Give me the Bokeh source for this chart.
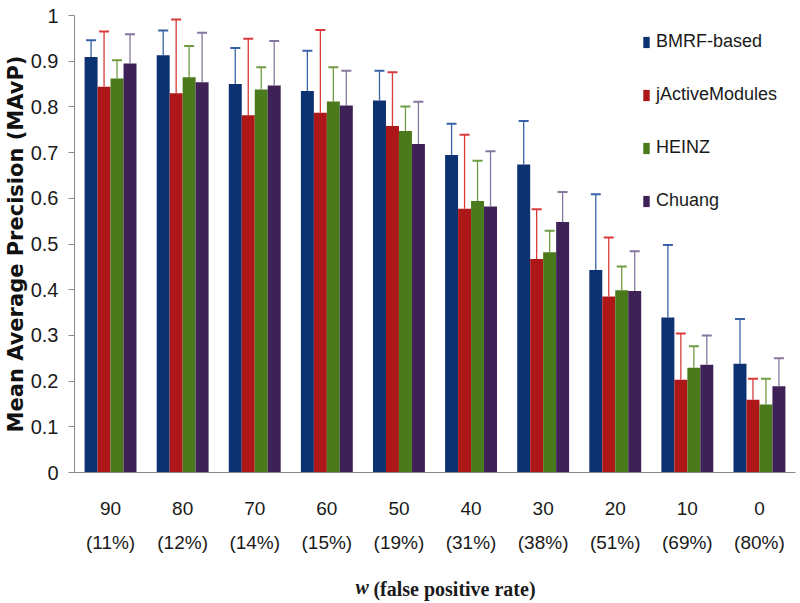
from bokeh.plotting import figure
from bokeh.models import (ColumnDataSource, Whisker, TeeHead, Legend, LegendItem,
                          FixedTicker, LinearAxis)
from bokeh.embed import file_html
from bokeh.resources import INLINE

# ---------------- data ----------------
w_values = ["90", "80", "70", "60", "50", "40", "30", "20", "10", "0"]
fp_rates = ["(11%)", "(12%)", "(14%)", "(15%)", "(19%)", "(31%)", "(38%)", "(51%)", "(69%)", "(80%)"]

series_names = ["BMRF-based", "jActiveModules", "HEINZ", "Chuang"]

bmrf_mean = [0.909, 0.913, 0.850, 0.835, 0.814, 0.695, 0.674, 0.443, 0.339, 0.238]
bmrf_sd = [0.037, 0.054, 0.079, 0.088, 0.065, 0.068, 0.095, 0.166, 0.159, 0.098]

jactive_mean = [0.844, 0.830, 0.782, 0.787, 0.758, 0.577, 0.467, 0.385, 0.203, 0.159]
jactive_sd = [0.121, 0.161, 0.167, 0.181, 0.118, 0.162, 0.109, 0.129, 0.101, 0.046]

heinz_mean = [0.862, 0.865, 0.838, 0.812, 0.747, 0.594, 0.482, 0.399, 0.229, 0.149]
heinz_sd = [0.040, 0.068, 0.049, 0.075, 0.054, 0.088, 0.047, 0.052, 0.047, 0.056]

chuang_mean = [0.895, 0.854, 0.847, 0.803, 0.719, 0.582, 0.548, 0.397, 0.236, 0.189]
chuang_sd = [0.064, 0.108, 0.097, 0.076, 0.092, 0.121, 0.066, 0.087, 0.064, 0.061]

y_ticks = [0, 0.1, 0.2, 0.3, 0.4, 0.5, 0.6, 0.7, 0.8, 0.9, 1]
y_tick_labels = ["0", "0.1", "0.2", "0.3", "0.4", "0.5", "0.6", "0.7", "0.8", "0.9", "1"]

y_title = "Mean Average Precision (MAvP)"
x_title_var = "w"
x_title_rest = "(false positive rate)"

# ---------------- style ----------------
bar_colors = ["#0c3272", "#ad1717", "#4a7a1b", "#3e2156"]
err_colors = ["#3862a6", "#d83a3a", "#6f9c43", "#85779f"]
offsets = [-0.27, -0.09, 0.09, 0.27]
bar_w = 0.18
axis_gray = "#8a8a8a"
text_col = "#1a1a1a"

p = figure(width=798, height=603, x_range=(0, 10), y_range=(0, 1),
           output_backend="svg", toolbar_location=None,
           min_border_left=72, min_border_right=3, min_border_top=15, min_border_bottom=131)
p.outline_line_color = None
p.grid.visible = False
p.background_fill_color = "white"

all_means = [bmrf_mean, jactive_mean, heinz_mean, chuang_mean]
all_sds = [bmrf_sd, jactive_sd, heinz_sd, chuang_sd]

centers = [i + 0.5 for i in range(len(w_values))]
items = []
for k in range(4):
    xs = [c + offsets[k] for c in centers]
    means = all_means[k]
    uppers = [m + s for m, s in zip(means, all_sds[k])]
    src = ColumnDataSource(dict(x=xs, top=means, upper=uppers))
    r = p.vbar(x="x", top="top", width=bar_w, bottom=0, source=src,
               fill_color=bar_colors[k], line_color=None)
    wk = Whisker(base="x", lower="top", upper="upper", source=src,
                 line_color=err_colors[k], line_width=1.3,
                 upper_head=TeeHead(size=10, line_color=err_colors[k], line_width=2),
                 lower_head=None, level="overlay")
    p.add_layout(wk)
    items.append(LegendItem(label=series_names[k], renderers=[r]))

legend = Legend(items=items, location=(568, 261), orientation="vertical",
                glyph_width=8, glyph_height=14, label_height=20, spacing=32,
                label_standoff=6, padding=0, margin=0,
                border_line_color=None, background_fill_alpha=0,
                label_text_font="Liberation Sans", label_text_font_size="18px",
                label_text_color=text_col)
p.add_layout(legend)

# y axis
ya = p.yaxis[0]
ya.ticker = FixedTicker(ticks=y_ticks)
ya.major_label_overrides = {t: s for t, s in zip(y_ticks, y_tick_labels)}
ya.minor_tick_line_color = None
ya.major_tick_in = 0
ya.major_tick_out = 6
ya.major_tick_line_color = axis_gray
ya.axis_line_color = axis_gray
ya.major_label_standoff = 10
ya.major_label_text_font = "Liberation Sans"
ya.major_label_text_font_size = "20px"
ya.major_label_text_color = text_col
ya.axis_label = y_title
ya.axis_label_standoff = 0
ya.axis_label_text_font = "DejaVu Sans"
ya.axis_label_text_font_style = "bold"
ya.axis_label_text_font_size = "21px"
ya.axis_label_text_color = "#111111"


def plain_axis(axis):
    axis.major_tick_line_color = None
    axis.minor_tick_line_color = None
    axis.major_tick_in = 0
    axis.major_tick_out = 0


# x axis (w values)
xa = p.xaxis[0]
xa.ticker = FixedTicker(ticks=centers)
xa.major_label_overrides = {c: s for c, s in zip(centers, w_values)}
plain_axis(xa)
xa.axis_line_color = axis_gray
xa.major_label_standoff = 29
xa.major_label_text_font = "Liberation Sans"
xa.major_label_text_font_size = "19px"
xa.major_label_text_color = text_col

# second x axis (false positive rates)
xa2 = LinearAxis(ticker=FixedTicker(ticks=centers),
                 major_label_overrides={c: s for c, s in zip(centers, fp_rates)})
plain_axis(xa2)
xa2.axis_line_color = None
xa2.major_label_standoff = 14
xa2.major_label_text_font = "Liberation Sans"
xa2.major_label_text_font_size = "19px"
xa2.major_label_text_color = text_col
p.add_layout(xa2, "below")

# x title: italic "w" followed by bold "(false positive rate)"
w_pos = 3.99
rest_pos = 5.27
xa3 = LinearAxis(ticker=FixedTicker(ticks=[w_pos]),
                 major_label_overrides={w_pos: x_title_var})
plain_axis(xa3)
xa3.axis_line_color = None
xa3.major_label_standoff = 20
xa3.major_label_text_font = "Liberation Serif"
xa3.major_label_text_font_style = "bold italic"
xa3.major_label_text_font_size = "20px"
xa3.major_label_text_color = text_col
p.add_layout(xa3, "below")

xa4 = LinearAxis(ticker=FixedTicker(ticks=[rest_pos]),
                 major_label_overrides={rest_pos: x_title_rest})
plain_axis(xa4)
xa4.axis_line_color = None
xa4.major_label_standoff = -23
xa4.major_label_text_font = "Liberation Serif"
xa4.major_label_text_font_style = "bold"
xa4.major_label_text_font_size = "20px"
xa4.major_label_text_color = text_col
p.add_layout(xa4, "below")

open("out.html", "w").write(file_html(p, INLINE))
